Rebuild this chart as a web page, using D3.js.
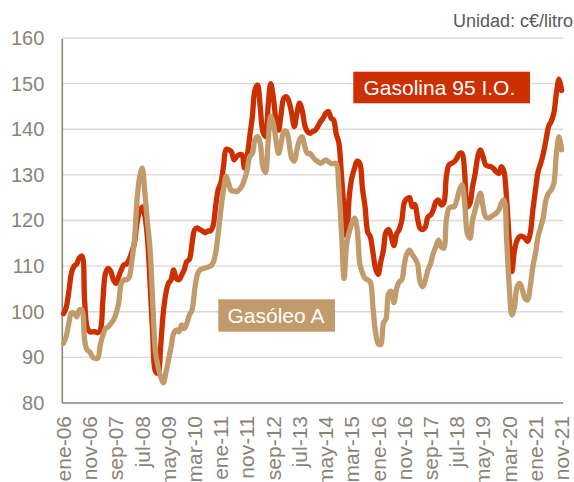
<!DOCTYPE html>
<html>
<head>
<meta charset="utf-8">
<script src="https://cdn.jsdelivr.net/npm/d3@7"></script>
<style>
  body { margin: 0; background: #ffffff; }
  svg { display: block; font-family: "Liberation Sans", Arial, sans-serif; }
</style>
</head>
<body>
<svg id="chart" width="574" height="482"></svg>
<script>
// Monthly categories, January 2006 to November 2021
const monthNames = ["ene","feb","mar","abr","may","jun","jul","ago","sep","oct","nov","dic"];
const yearLabels = ["06","07","08","09","10","11","12","13","14","15","16","17","18","19","20","21"];
const categories = [];
yearLabels.forEach(yr => monthNames.forEach(m => categories.push(m + "-" + yr)));
categories.length = 191; // last month shown: nov-21

// Tick labels on the category axis (every 10 months)
const xTickLabels = ["ene-06","nov-06","sep-07","jul-08","may-09","mar-10","ene-11","nov-11",
  "sep-12","jul-13","may-14","mar-15","ene-16","nov-16","sep-17","jul-18","may-19","mar-20",
  "ene-21","nov-21"];
const yTicks = [80, 90, 100, 110, 120, 130, 140, 150, 160];

// Gasolina 95 I.O. — c€/litro, monthly
const gasolina95 = [
  99.6, 101, 104.5, 108.5, 110, 110.5, 111.8, 112.2, 102.6, 96.5, 95.6, 95.6,
  95.6, 95.4, 96, 102.6, 108.5, 109.5, 108.8, 107, 106.2, 107.7, 109.2, 110.3,
  110.5, 111.5, 113, 115, 119.5, 122, 123, 121, 116, 106, 95, 87,
  86.5, 92.3, 99.6, 104, 106.2, 107, 109.2, 107.3, 107, 108, 109.2, 111,
  111.5, 115, 118, 118.4, 118, 117.7, 117.3, 117.7, 117.7, 118.8, 123.2, 126.8,
  128.3, 131.9, 135.6, 135.5, 135.1, 133.3, 134, 134.4, 134.4, 131.5, 134, 138.4,
  142.8, 148.6, 149.7, 144.9, 139.5, 138.4, 144.9, 150, 147.1, 142, 139.8, 143.5,
  146.8, 147.1, 146, 143.5, 140.6, 143.5, 145.7, 144.2, 140.9, 139.5, 139.1, 139.5,
  139.8, 140.6, 141.7, 142.4, 143.5, 143.9, 142.5, 142, 139, 137, 130, 122.5,
  116.5, 125.5, 129.5, 131.5, 133, 132.5, 127, 123, 117.5, 116.4, 113, 109.5,
  108.2, 111, 113.5, 117.5, 118, 116.5, 114.5, 117, 118, 120, 124, 124.8,
  125, 123, 123.5, 120.5, 118.3, 118, 118.6, 120.8, 121.2, 122.3, 124.1, 124.5,
  123.4, 123.8, 129.6, 132.2, 132.5, 132.9, 133.6, 134.7, 134.7, 130.3, 123, 123.8,
  127.4, 130.3, 134, 135.5, 134, 132.2, 131.9, 131.8, 131.4, 130.7, 130.3, 131.8,
  130.7, 124.5, 115.7, 108.8, 113.5, 115.7, 116.5, 116.5, 116.1, 115.4, 117.2, 122.3,
  126.7, 130.7, 132.5, 134.7, 137.6, 140.6, 141.7, 143.5, 148, 151, 148.5
];

// Gasóleo A — c€/litro, monthly
const gasoleoA = [
  93.1, 94.6, 97.5, 99.7, 99.7, 98.9, 100.4, 100.4, 93.8, 91.6, 91.2, 90.1,
  89.8, 89.8, 92.7, 94.9, 96.3, 96.7, 97.4, 98.2, 99.6, 101.9, 106.2, 107,
  107, 107.5, 111, 115.5, 124.5, 129.5, 131.5, 126, 119.5, 113.5, 102, 91.5,
  88, 85.8, 84.4, 86.6, 89.4, 92.3, 95.3, 96, 95.6, 97.1, 96.3, 97.4,
  99.3, 100.4, 104.8, 108.1, 109.2, 109.4, 109.6, 109.8, 110, 110.7, 112.9, 117.3,
  122.4, 126.8, 129.7, 128, 126.5, 126.5, 126.3, 126.8, 127.5, 129, 131, 134,
  134.7, 137.7, 138.4, 137, 131.8, 130.5, 137, 142.8, 141.3, 137.7, 134.7, 137,
  139.5, 139.5, 137, 133.7, 133, 135.5, 137.7, 138.4, 136.2, 134.7, 134.7, 134,
  133.3, 132.9, 132.5, 132.9, 133.3, 132.9, 132.5, 132.5, 132.5, 127, 117.5, 107.3,
  115, 117.5, 119.5, 120.5, 118, 110.5, 108.5, 107.3, 107, 106.5, 101, 95.5,
  93, 92.8, 97.5, 98.5, 104, 104.5, 102, 105, 106.5, 107, 110.5, 112.8,
  113.5, 112.5, 111.7, 110.5, 106.5, 105.5, 107, 109.2, 110.6, 112.8, 114.3, 115.7,
  114.3, 113.9, 120.1, 122.7, 123, 123, 124.5, 126.7, 127.8, 123.8, 117.2, 116.1,
  120.1, 122.3, 124.5, 126, 123, 120.8, 120.5, 120.8, 121.2, 121.6, 122.3, 123.8,
  124.5, 115.7, 105.5, 99.3, 101.1, 105.5, 106.2, 104.8, 102.9, 102.6, 105.5, 109.9,
  112.8, 116.5, 118.6, 120.8, 124.5, 126, 126.7, 128.1, 134.7, 138.4, 135.5
];

const seriesNames = ["Gasolina 95 I.O.", "Gasóleo A"];
const colors = { gasolina: "#cc2f00", gasoleo: "#c19b6c" };

const svg = d3.select("#chart");
const plot = { left: 62.3, right: 563, top: 38, bottom: 403 };

const x = d3.scaleBand().domain(categories).range([plot.left, plot.right]).padding(0);
const y = d3.scaleLinear().domain([80, 160]).range([plot.bottom, plot.top]);
const cx = c => x(c) + x.bandwidth() / 2;

// Horizontal gridlines
svg.append("g").selectAll("line")
  .data(yTicks.filter(v => v > 80))
  .join("line")
  .attr("x1", plot.left).attr("x2", plot.right)
  .attr("y1", d => y(d)).attr("y2", d => y(d))
  .attr("stroke", "#dcd8d3").attr("stroke-width", 1.4);

// Axis lines
svg.append("line")
  .attr("x1", plot.left).attr("x2", plot.left)
  .attr("y1", y(160) + 1).attr("y2", plot.bottom)
  .attr("stroke", "#8e8474").attr("stroke-width", 1.6);
svg.append("line")
  .attr("x1", plot.left).attr("x2", plot.right)
  .attr("y1", plot.bottom).attr("y2", plot.bottom)
  .attr("stroke", "#8e8474").attr("stroke-width", 1.6);

// Y axis labels
const yAxis = svg.append("g")
  .attr("transform", `translate(${plot.left},0)`)
  .call(d3.axisLeft(y).tickValues(yTicks).tickSize(0).tickPadding(18).tickFormat(d3.format("d")));
yAxis.select(".domain").remove();
yAxis.selectAll("text")
  .attr("fill", "#8b8378")
  .style("font-size", "20px")
  .style("font-family", "'Liberation Sans', Arial, sans-serif");

// X axis labels, rotated
const xAxis = svg.append("g")
  .attr("transform", `translate(0,${plot.bottom})`)
  .call(d3.axisBottom(x).tickValues(xTickLabels).tickSize(0));
xAxis.select(".domain").remove();
xAxis.selectAll("text")
  .attr("transform", "rotate(-90)")
  .attr("text-anchor", "end")
  .attr("x", -13)
  .attr("y", 0)
  .attr("dy", "0.35em")
  .attr("fill", "#8b8378")
  .style("font-size", "21px")
  .style("font-family", "'Liberation Sans', Arial, sans-serif");

// Price lines
const line = d3.line()
  .x((d, i) => cx(categories[i]))
  .y(d => y(d))
  .curve(d3.curveCatmullRom.alpha(0.5));

svg.append("path")
  .datum(gasolina95)
  .attr("d", line)
  .attr("fill", "none")
  .attr("stroke", colors.gasolina)
  .attr("stroke-width", 5.3)
  .attr("stroke-linejoin", "round")
  .attr("stroke-linecap", "round");

svg.append("path")
  .datum(gasoleoA)
  .attr("d", line)
  .attr("fill", "none")
  .attr("stroke", colors.gasoleo)
  .attr("stroke-width", 5.3)
  .attr("stroke-linejoin", "round")
  .attr("stroke-linecap", "round");

// Series labels in coloured boxes
const labelBoxes = [
  { name: seriesNames[0], color: colors.gasolina, x: 353.3, y: 71.7, w: 176.7, h: 31.6, tx: 363.5, ty: 95 },
  { name: seriesNames[1], color: colors.gasoleo, x: 218.3, y: 299.3, w: 116.7, h: 32.4, tx: 227.5, ty: 323.3 }
];
const lb = svg.append("g").selectAll("g").data(labelBoxes).join("g");
lb.append("rect")
  .attr("x", d => d.x).attr("y", d => d.y)
  .attr("width", d => d.w).attr("height", d => d.h)
  .attr("fill", d => d.color);
lb.append("text")
  .attr("x", d => d.tx).attr("y", d => d.ty)
  .attr("fill", "#ffffff")
  .style("font-size", "21px")
  .text(d => d.name);

// Unit note
svg.append("text")
  .attr("x", 573).attr("y", 27.3)
  .attr("text-anchor", "end")
  .attr("fill", "#595959")
  .style("font-size", "18px")
  .text("Unidad: c€/litro");
</script>
</body>
</html>
